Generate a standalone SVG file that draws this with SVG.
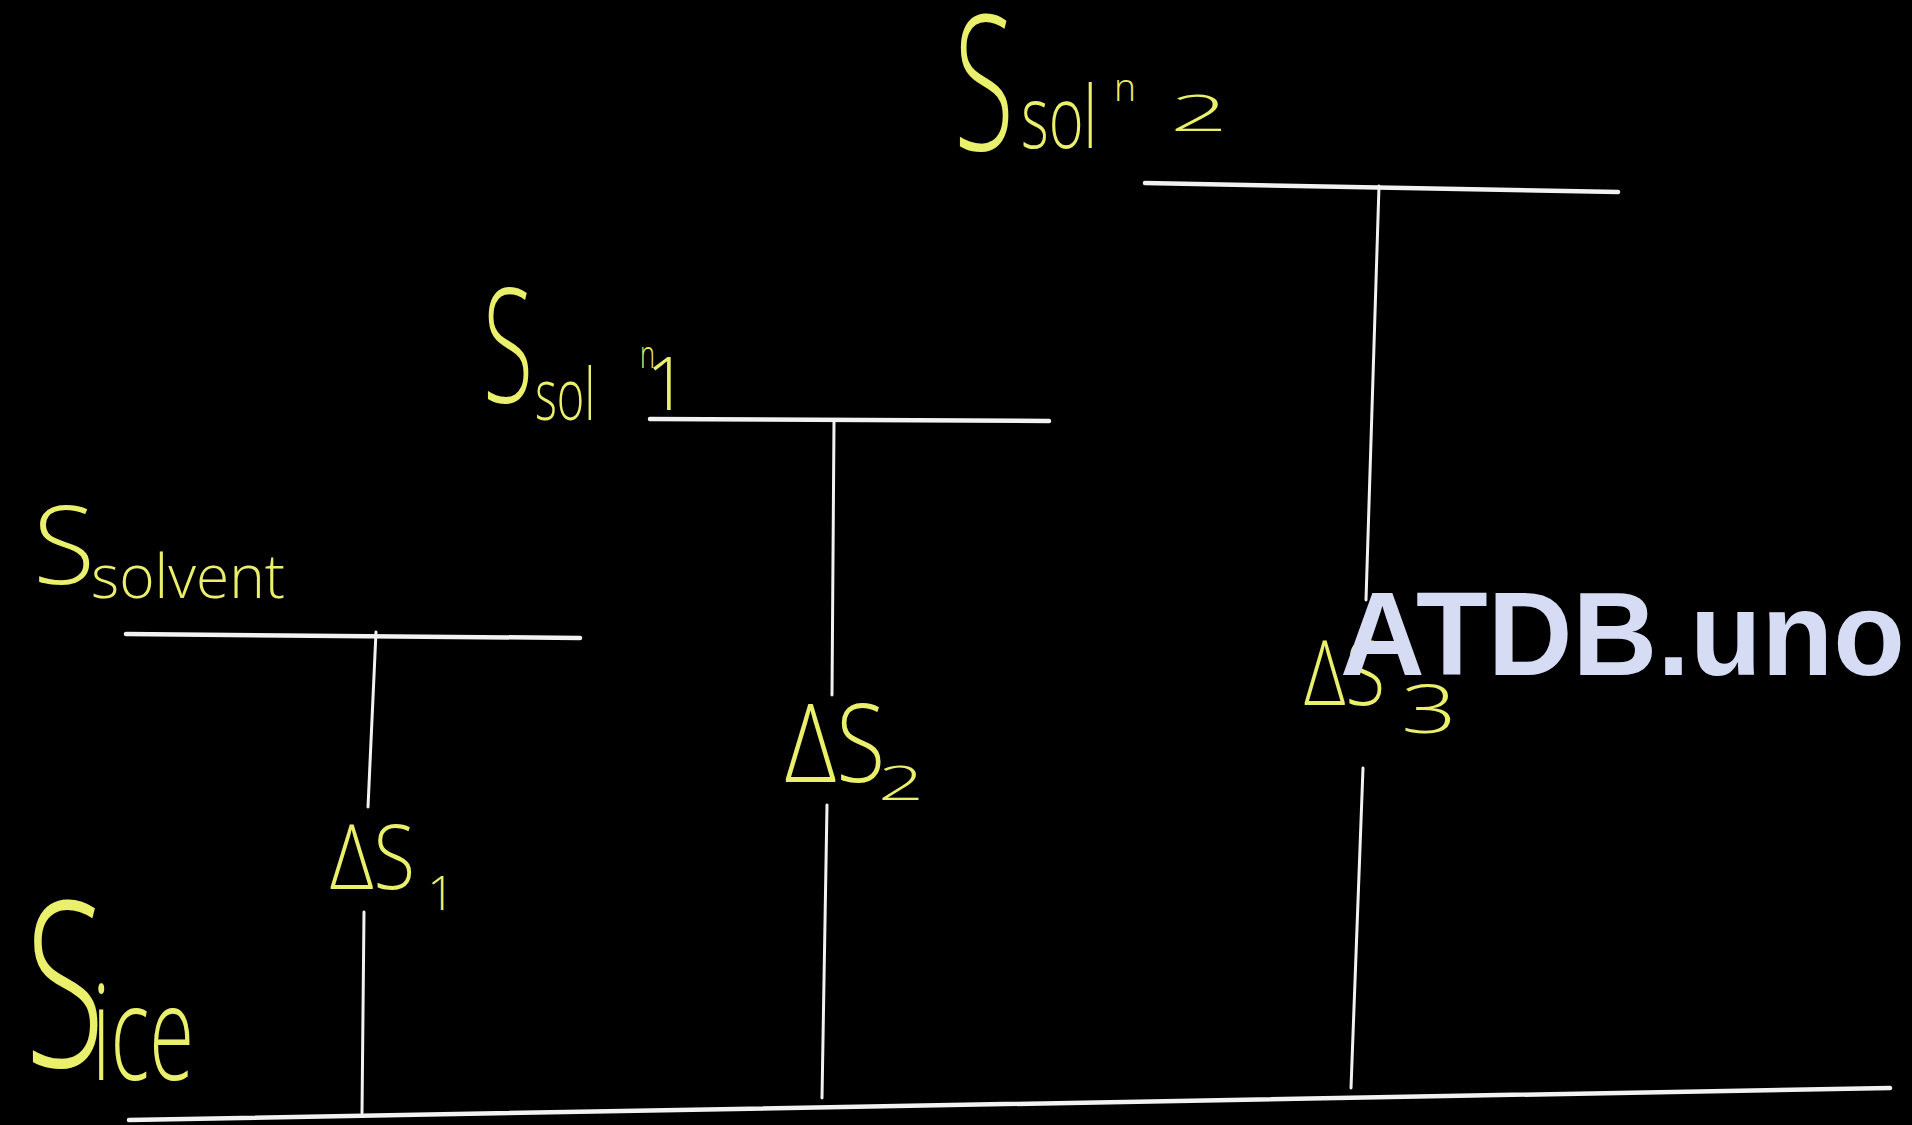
<svg xmlns="http://www.w3.org/2000/svg" width="1912" height="1125" viewBox="0 0 1912 1125">
<style>
.lvl{stroke:#f2f2f2;stroke-width:4.5;stroke-linecap:round;fill:none}
.con{stroke:#f2f2f2;stroke-width:3;stroke-linecap:round;fill:none}
.hw{fill:#ebf06c;font-family:"Open Sans","Noto Sans","Liberation Sans",sans-serif;font-weight:300}
.wm{fill:#d6dcf4;font-family:"Liberation Sans",Arial,sans-serif;font-weight:bold}
</style>
<rect width="1912" height="1125" fill="#000"/>
<g id="level-solvent">
<line class="lvl" x1="126" y1="634" x2="580" y2="638"/>
<text class="hw" x="33" y="584" font-size="108" textLength="62" lengthAdjust="spacingAndGlyphs">S</text>
<text class="hw" x="91" y="598" font-size="60" textLength="194" lengthAdjust="spacingAndGlyphs">solvent</text>
</g>
<g id="level-soln1">
<line class="lvl" x1="650" y1="419" x2="1049" y2="421"/>
<text class="hw" x="483" y="402" font-size="158" textLength="50" lengthAdjust="spacingAndGlyphs">S</text>
<text class="hw" x="535" y="420" font-size="72" textLength="60" lengthAdjust="spacingAndGlyphs">sol</text>
<text class="hw" x="640" y="368" font-size="38" textLength="15" lengthAdjust="spacingAndGlyphs">n</text>
<text class="hw" x="667" y="410" font-size="74" text-anchor="middle">1</text>
</g>
<g id="level-soln2">
<line class="lvl" x1="1145" y1="183" x2="1618" y2="192"/>
<text class="hw" x="954" y="150" font-size="188" textLength="60" lengthAdjust="spacingAndGlyphs">S</text>
<text class="hw" x="1021" y="148" font-size="86" textLength="76" lengthAdjust="spacingAndGlyphs">sol</text>
<text class="hw" x="1114" y="101" font-size="38" textLength="22" lengthAdjust="spacingAndGlyphs">n</text>
<text class="hw" x="1170" y="131" font-size="50" textLength="58" lengthAdjust="spacingAndGlyphs">2</text>
</g>
<g id="level-ice">
<line class="lvl" x1="129" y1="1120" x2="1890" y2="1088"/>
<text class="hw" x="25" y="1067" font-size="230" textLength="80" lengthAdjust="spacingAndGlyphs">S</text>
<text class="hw" x="92" y="1080" font-size="132" textLength="102" lengthAdjust="spacingAndGlyphs">ice</text>
</g>
<g id="connectors">
<line class="con" x1="376" y1="632" x2="368" y2="807"/>
<line class="con" x1="364" y1="912" x2="362" y2="1113"/>
<line class="con" x1="834" y1="422" x2="832" y2="695"/>
<line class="con" x1="827" y1="805" x2="822" y2="1098"/>
<line class="con" x1="1379" y1="186" x2="1366" y2="600"/>
<line class="con" x1="1363" y1="768" x2="1351" y2="1088"/>
</g>
<g id="label-dS1">
<text class="hw" x="330" y="889" font-size="90" textLength="85" lengthAdjust="spacingAndGlyphs">ΔS</text>
<text class="hw" x="441" y="910" font-size="48" text-anchor="middle">1</text>
</g>
<g id="label-dS2">
<text class="hw" x="785" y="782" font-size="108" textLength="100" lengthAdjust="spacingAndGlyphs">ΔS</text>
<text class="hw" x="878" y="800" font-size="48" textLength="46" lengthAdjust="spacingAndGlyphs">2</text>
</g>
<g id="label-dS3">
<text class="hw" x="1304" y="705" font-size="90" textLength="81" lengthAdjust="spacingAndGlyphs">ΔS</text>
<text class="hw" x="1401" y="733" font-size="66" textLength="56" lengthAdjust="spacingAndGlyphs">3</text>
</g>
<g id="watermark">
<text class="wm" x="1340" y="675" font-size="119" textLength="565" lengthAdjust="spacingAndGlyphs">ATDB.uno</text>
</g>
</svg>
